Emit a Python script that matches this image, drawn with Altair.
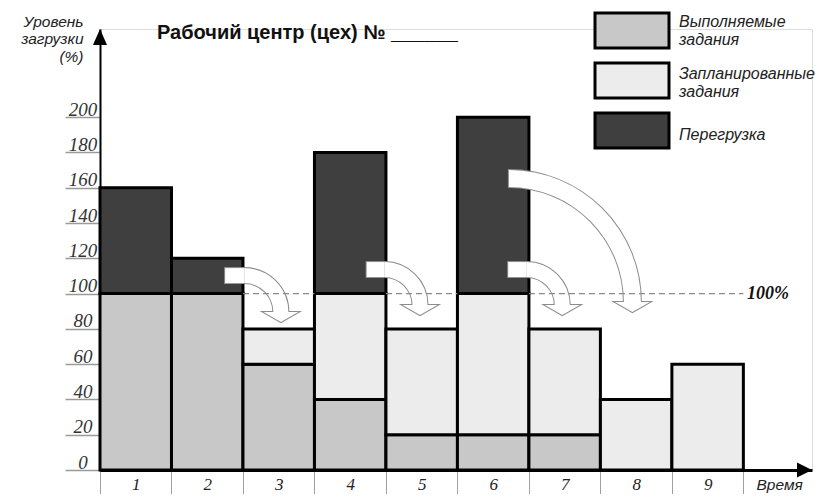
import math
import altair as alt
import pandas as pd

# ---------------- data ----------------
periods = [1, 2, 3, 4, 5, 6, 7, 8, 9]
performed = [100, 100, 60, 40, 20, 20, 20, 0, 0]
planned = [0, 0, 20, 60, 60, 80, 60, 40, 60]
overload = [60, 20, 0, 80, 0, 100, 0, 0, 0]
segment_names = ["Выполняемые|задания", "Запланированные|задания", "Перегрузка"]
segment_colors = ["#c8c8c8", "#ececec", "#3f3f3f"]
y_ticks = [0, 20, 40, 60, 80, 100, 120, 140, 160, 180, 200]
x_ticks = [0, 1, 2, 3, 4, 5, 6, 7, 8, 9]
capacity = 100

title_text = "Рабочий центр (цех) № ______"
y_title = ["Уровень", "загрузки", "(%)"]
x_title = "Время"
capacity_label = "100%"

# curved "move the load" arrows: x in period slots, y in %, radii in px
arrow_x_start = [1.75, 3.73, 5.71, 5.72]
arrow_x_center = [2.02, 3.98, 5.97, 5.72]
arrow_y_center = [89.5, 93.5, 93.5, 95.2]
arrow_r_outer = [44, 43, 43, 132]
arrow_r_inner = [29, 28, 28, 115]

# ---------------- layout ----------------
W, H = 712, 441
X_MAX, Y_MAX = 9.96, 250
KX = W / X_MAX
KY = H / Y_MAX
SYM_W, SYM_H = 74, 35             # legend box size (px)
SYM_LAYOUT = 49                   # legend row pitch minus stroke (px)
LEG_X, LEG_Y = 506, -24.5         # legend origin (px, relative to plot area)
LEG_LABEL_X = 579                 # left edge of legend labels (px)
LEG_CENTER_Y0, LEG_STEP = 1.5, 52
LEG_LINE_H = 18

xs = alt.Scale(domain=[0, X_MAX], nice=False, zero=False)
ys = alt.Scale(domain=[0, Y_MAX], nice=False, zero=False)

x_axis = alt.Axis(
    values=x_ticks, tickSize=32, tickColor="#a0a0a0", tickWidth=1,
    domainColor="black", domainWidth=3, grid=False,
    labelExpr="datum.value < 9 ? format(datum.value + 1, 'd') : ''",
    labelOffset=KX / 2, labelPadding=-18, labelBaseline="middle",
    labelFlush=False, labelOverlap=False,
    labelFont="Liberation Serif", labelFontStyle="italic", labelFontSize=17, labelColor="#222",
    title=x_title, titleX=656, titleY=14, titleAlign="left", titleBaseline="middle", titleAngle=0,
    titleFont="Liberation Sans", titleFontStyle="italic", titleFontWeight="normal",
    titleFontSize=15.5, titleColor="#222",
)
y_axis = alt.Axis(
    values=y_ticks, tickSize=35, tickColor="#9a9a9a", tickWidth=1.5,
    domainColor="black", domainWidth=2, grid=False,
    labelAlign="center", labelBaseline="alphabetic", labelPadding=-17.5, labelOffset=-2,
    labelFont="Liberation Serif", labelFontStyle="italic", labelFontSize=19, labelColor="#333",
    labelOverlap=False,
    title=y_title, titleX=-17, titleY=-15, titleAlign="right", titleBaseline="top", titleAngle=0,
    titleLineHeight=17.5, titleFont="Liberation Sans", titleFontStyle="italic",
    titleFontWeight="normal", titleFontSize=15.5, titleColor="#222",
)


def X(field):
    return alt.X(field, scale=xs, axis=x_axis)


def Y(field):
    return alt.Y(field, scale=ys, axis=y_axis)


# ---------------- bars ----------------
rows = []
for i, p in enumerate(periods):
    base = 0
    for name, v in zip(segment_names, [performed[i], planned[i], overload[i]]):
        if v > 0:
            rows.append(dict(x=p - 1, x2=p, y=base, y2=base + v, seg=name))
        base += v
bars_df = pd.DataFrame(rows)

hx = SYM_W / SYM_LAYOUT
hy = SYM_H / SYM_LAYOUT
legend = alt.Legend(
    orient="none", legendX=LEG_X, legendY=LEG_Y, direction="vertical", title=None,
    symbolType=f"M{-hx:.4f},{-hy:.4f}L{hx:.4f},{-hy:.4f}L{hx:.4f},{hy:.4f}L{-hx:.4f},{hy:.4f}Z",
    symbolSize=SYM_LAYOUT ** 2,
    symbolStrokeColor="black", symbolStrokeWidth=3, symbolOpacity=1,
    labelExpr="''", labelFontSize=1, labelLimit=0, rowPadding=0, padding=0,
)

bars = alt.Chart(bars_df).mark_rect(stroke="black", strokeWidth=3, strokeJoin="miter").encode(
    x=X("x:Q"), x2="x2:Q", y=Y("y:Q"), y2="y2:Q",
    color=alt.Color("seg:N", scale=alt.Scale(domain=segment_names, range=segment_colors), legend=legend),
)

# legend labels (one text line per mark, centred on each legend box)
lab_rows = []
for k, name in enumerate(segment_names):
    lines = name.split("|")
    cy = LEG_CENTER_Y0 + k * LEG_STEP
    for j, ln in enumerate(lines):
        lab_rows.append(dict(t=ln, py=cy + (j - (len(lines) - 1) / 2) * LEG_LINE_H))
legend_labels = alt.Chart(pd.DataFrame(lab_rows)).mark_text(
    align="left", baseline="middle", font="Liberation Sans", fontStyle="italic", fontSize=16,
    color="#222").encode(x=alt.value(LEG_LABEL_X), y=alt.Y("py:Q", scale=None), text="t:N")

# ---------------- arrows ----------------
arrow_df = pd.DataFrame(dict(x_start=arrow_x_start, xc=arrow_x_center, yc=arrow_y_center,
                             r_out=arrow_r_outer, r_in=arrow_r_inner))
arrow_df["y_lo"] = arrow_df["yc"] + arrow_df["r_in"] / KY
arrow_df["y_hi"] = arrow_df["yc"] + arrow_df["r_out"] / KY
arrow_df["x_head"] = arrow_df["xc"] + (arrow_df["r_out"] + arrow_df["r_in"]) / 2 / KX
straight_df = arrow_df[arrow_df["x_start"] < arrow_df["xc"]]

HEAD = "M-1,0L1,0L0,0.57Z"


def arrow_layers(outline):
    st = dict(stroke="#8c8c8c", strokeWidth=2) if outline else dict(strokeWidth=0)
    out = [
        alt.Chart(straight_df).mark_rect(fill="white", **st).encode(
            x=X("x_start:Q"), x2="xc:Q", y=Y("y_lo:Q"), y2="y_hi:Q")
    ]
    for i in range(len(arrow_df)):
        row = arrow_df.iloc[[i]]
        out.append(
            alt.Chart(row).mark_arc(fill="white", theta=0, theta2=math.pi / 2,
                                    radius=float(row["r_out"].iloc[0]),
                                    radius2=float(row["r_in"].iloc[0]), **st).encode(
                x=X("xc:Q"), y=Y("yc:Q"))
        )
    out.append(
        alt.Chart(arrow_df).mark_point(shape=HEAD, size=1225, filled=True, fill="white", opacity=1, **st).encode(
            x=X("x_head:Q"), y=Y("yc:Q"))
    )
    return out


# ---------------- capacity line ----------------
totals = [a + b + c for a, b, c in zip(performed, planned, overload)]
segs = []
start = None
for i, t in enumerate(totals):
    if t < capacity and start is None:
        start = i
    if t >= capacity and start is not None:
        segs.append((start, i))
        start = None
if start is not None:
    segs.append((start, len(totals)))
cap_df = pd.DataFrame(dict(x0=[s[0] for s in segs], x1=[s[1] for s in segs], cap=[capacity] * len(segs)))

cap_line = alt.Chart(cap_df).mark_rule(color="#8a8a8a", strokeDash=[6, 4], strokeWidth=1.2).encode(
    x=X("x0:Q"), x2="x1:Q", y=Y("cap:Q"))

cap_text = alt.Chart(pd.DataFrame(dict(x=[9.05], y=[capacity], t=[capacity_label]))).mark_text(
    align="left", baseline="middle", font="Liberation Serif", fontStyle="italic", fontWeight="bold",
    fontSize=18, color="#111").encode(x=X("x:Q"), y=Y("y:Q"), text="t:N")

# ---------------- axis arrowheads ----------------
yhead = alt.Chart(pd.DataFrame(dict(x=[0], y=[Y_MAX]))).mark_point(
    shape="M0,0L0.44,1L-0.44,1Z", size=1024, filled=True, fill="black", opacity=1, strokeWidth=0).encode(
    x=X("x:Q"), y=Y("y:Q"))
xhead = alt.Chart(pd.DataFrame(dict(x=[X_MAX], y=[0]))).mark_point(
    shape="M0,0L-1,-0.5L-1,0.5Z", size=900, filled=True, fill="black", opacity=1, strokeWidth=0).encode(
    x=X("x:Q"), y=Y("y:Q"))

# ---------------- title ----------------
title_mark = alt.Chart(pd.DataFrame(dict(t=[title_text]))).mark_text(
    align="left", baseline="middle", font="Liberation Sans", fontWeight="bold", fontSize=20,
    color="#111").encode(x=alt.value(57), y=alt.value(4), text="t:N")

chart = alt.layer(
    bars, *arrow_layers(True), *arrow_layers(False), cap_line, cap_text, yhead, xhead,
    title_mark, legend_labels
).properties(
    width=W, height=H,
    padding={"left": 92, "top": 21, "right": 10, "bottom": 24},
    autosize=alt.AutoSizeParams(type="none"),
).configure_view(stroke=None).configure(font="Liberation Sans")

chart.save("out.html", embed_options={"renderer": "svg", "actions": False})
